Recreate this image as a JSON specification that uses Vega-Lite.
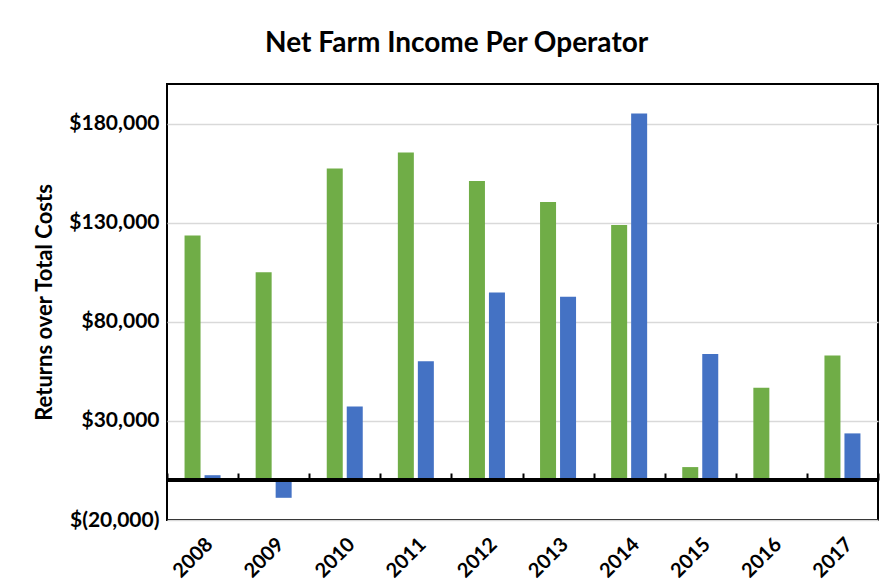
{
  "$schema": "https://vega.github.io/schema/vega-lite/v6.json",
  "autosize": {"type": "none"},
  "padding": {"left": 167, "top": 84, "right": 8, "bottom": 63},
  "width": 711,
  "height": 436,
  "background": "white",
  "title": {
    "text": "Net Farm Income Per Operator",
    "font": "Lato",
    "fontSize": 28,
    "fontWeight": "bold",
    "color": "black",
    "anchor": "middle",
    "frame": "bounds",
    "offset": 26
  },
  "data": {
    "values": [
      {"year": "2008", "series": "Series 1", "value": 123500},
      {"year": "2008", "series": "Series 2", "value": 2600},
      {"year": "2009", "series": "Series 1", "value": 105000},
      {"year": "2009", "series": "Series 2", "value": -8800},
      {"year": "2010", "series": "Series 1", "value": 157300},
      {"year": "2010", "series": "Series 2", "value": 37300},
      {"year": "2011", "series": "Series 1", "value": 165400},
      {"year": "2011", "series": "Series 2", "value": 60100},
      {"year": "2012", "series": "Series 1", "value": 151100},
      {"year": "2012", "series": "Series 2", "value": 94800},
      {"year": "2013", "series": "Series 1", "value": 140400},
      {"year": "2013", "series": "Series 2", "value": 92600},
      {"year": "2014", "series": "Series 1", "value": 128800},
      {"year": "2014", "series": "Series 2", "value": 185100},
      {"year": "2015", "series": "Series 1", "value": 6700},
      {"year": "2015", "series": "Series 2", "value": 63800},
      {"year": "2016", "series": "Series 1", "value": 46700},
      {"year": "2016", "series": "Series 2", "value": null},
      {"year": "2017", "series": "Series 1", "value": 63000},
      {"year": "2017", "series": "Series 2", "value": 23700}
    ]
  },
  "layer": [
    {
      "mark": {"type": "bar"},
      "encoding": {
        "x": {
          "field": "year",
          "type": "nominal",
          "sort": null,
          "scale": {"paddingInner": 0, "paddingOuter": 0},
          "axis": {
            "title": null,
            "orient": "bottom",
            "labelAngle": -45,
            "labelFont": "Lato",
            "labelFontSize": 20,
            "labelFontWeight": "bold",
            "labelColor": "black",
            "labelPadding": 14,
            "ticks": false,
            "domain": false,
            "grid": false
          }
        },
        "xOffset": {
          "field": "series",
          "type": "nominal",
          "scale": {"paddingInner": 0.2, "paddingOuter": 0.8775}
        },
        "y": {
          "field": "value",
          "type": "quantitative",
          "scale": {"domain": [-20000, 200000], "nice": false, "zero": false},
          "axis": {
            "title": "Returns over Total Costs",
            "titleFont": "Lato",
            "titleFontSize": 22,
            "titleFontWeight": "bold",
            "titleColor": "black",
            "titlePadding": 12,
            "values": [-20000, 30000, 80000, 130000, 180000],
            "labelExpr": "datum.value < 0 ? '$(' + format(-datum.value, ',') + ')' : '$' + format(datum.value, ',')",
            "labelFont": "Lato",
            "labelFontSize": 21,
            "labelFontWeight": "bold",
            "labelColor": "black",
            "labelPadding": 8,
            "ticks": false,
            "domain": false,
            "grid": true,
            "gridColor": "#d9d9d9",
            "gridWidth": 1.5
          }
        },
        "color": {
          "field": "series",
          "type": "nominal",
          "scale": {"domain": ["Series 1", "Series 2"], "range": ["#70AD47", "#4472C4"]},
          "legend": null
        }
      }
    },
    {
      "mark": {"type": "rule", "color": "black", "strokeWidth": 3},
      "encoding": {
        "y": {"datum": 0, "type": "quantitative"}
      }
    },
    {
      "mark": {"type": "rule", "opacity": 0},
      "encoding": {
        "x": {
          "field": "year",
          "type": "nominal",
          "sort": null,
          "axis": {
            "orient": "bottom",
            "offset": -40,
            "title": null,
            "labels": false,
            "domain": false,
            "grid": false,
            "ticks": true,
            "tickBand": "extent",
            "tickSize": -7,
            "tickWidth": 2,
            "tickColor": "black"
          }
        }
      }
    }
  ],
  "resolve": {"axis": {"x": "independent"}},
  "config": {
    "view": {"stroke": "black", "strokeWidth": 2}
  }
}
